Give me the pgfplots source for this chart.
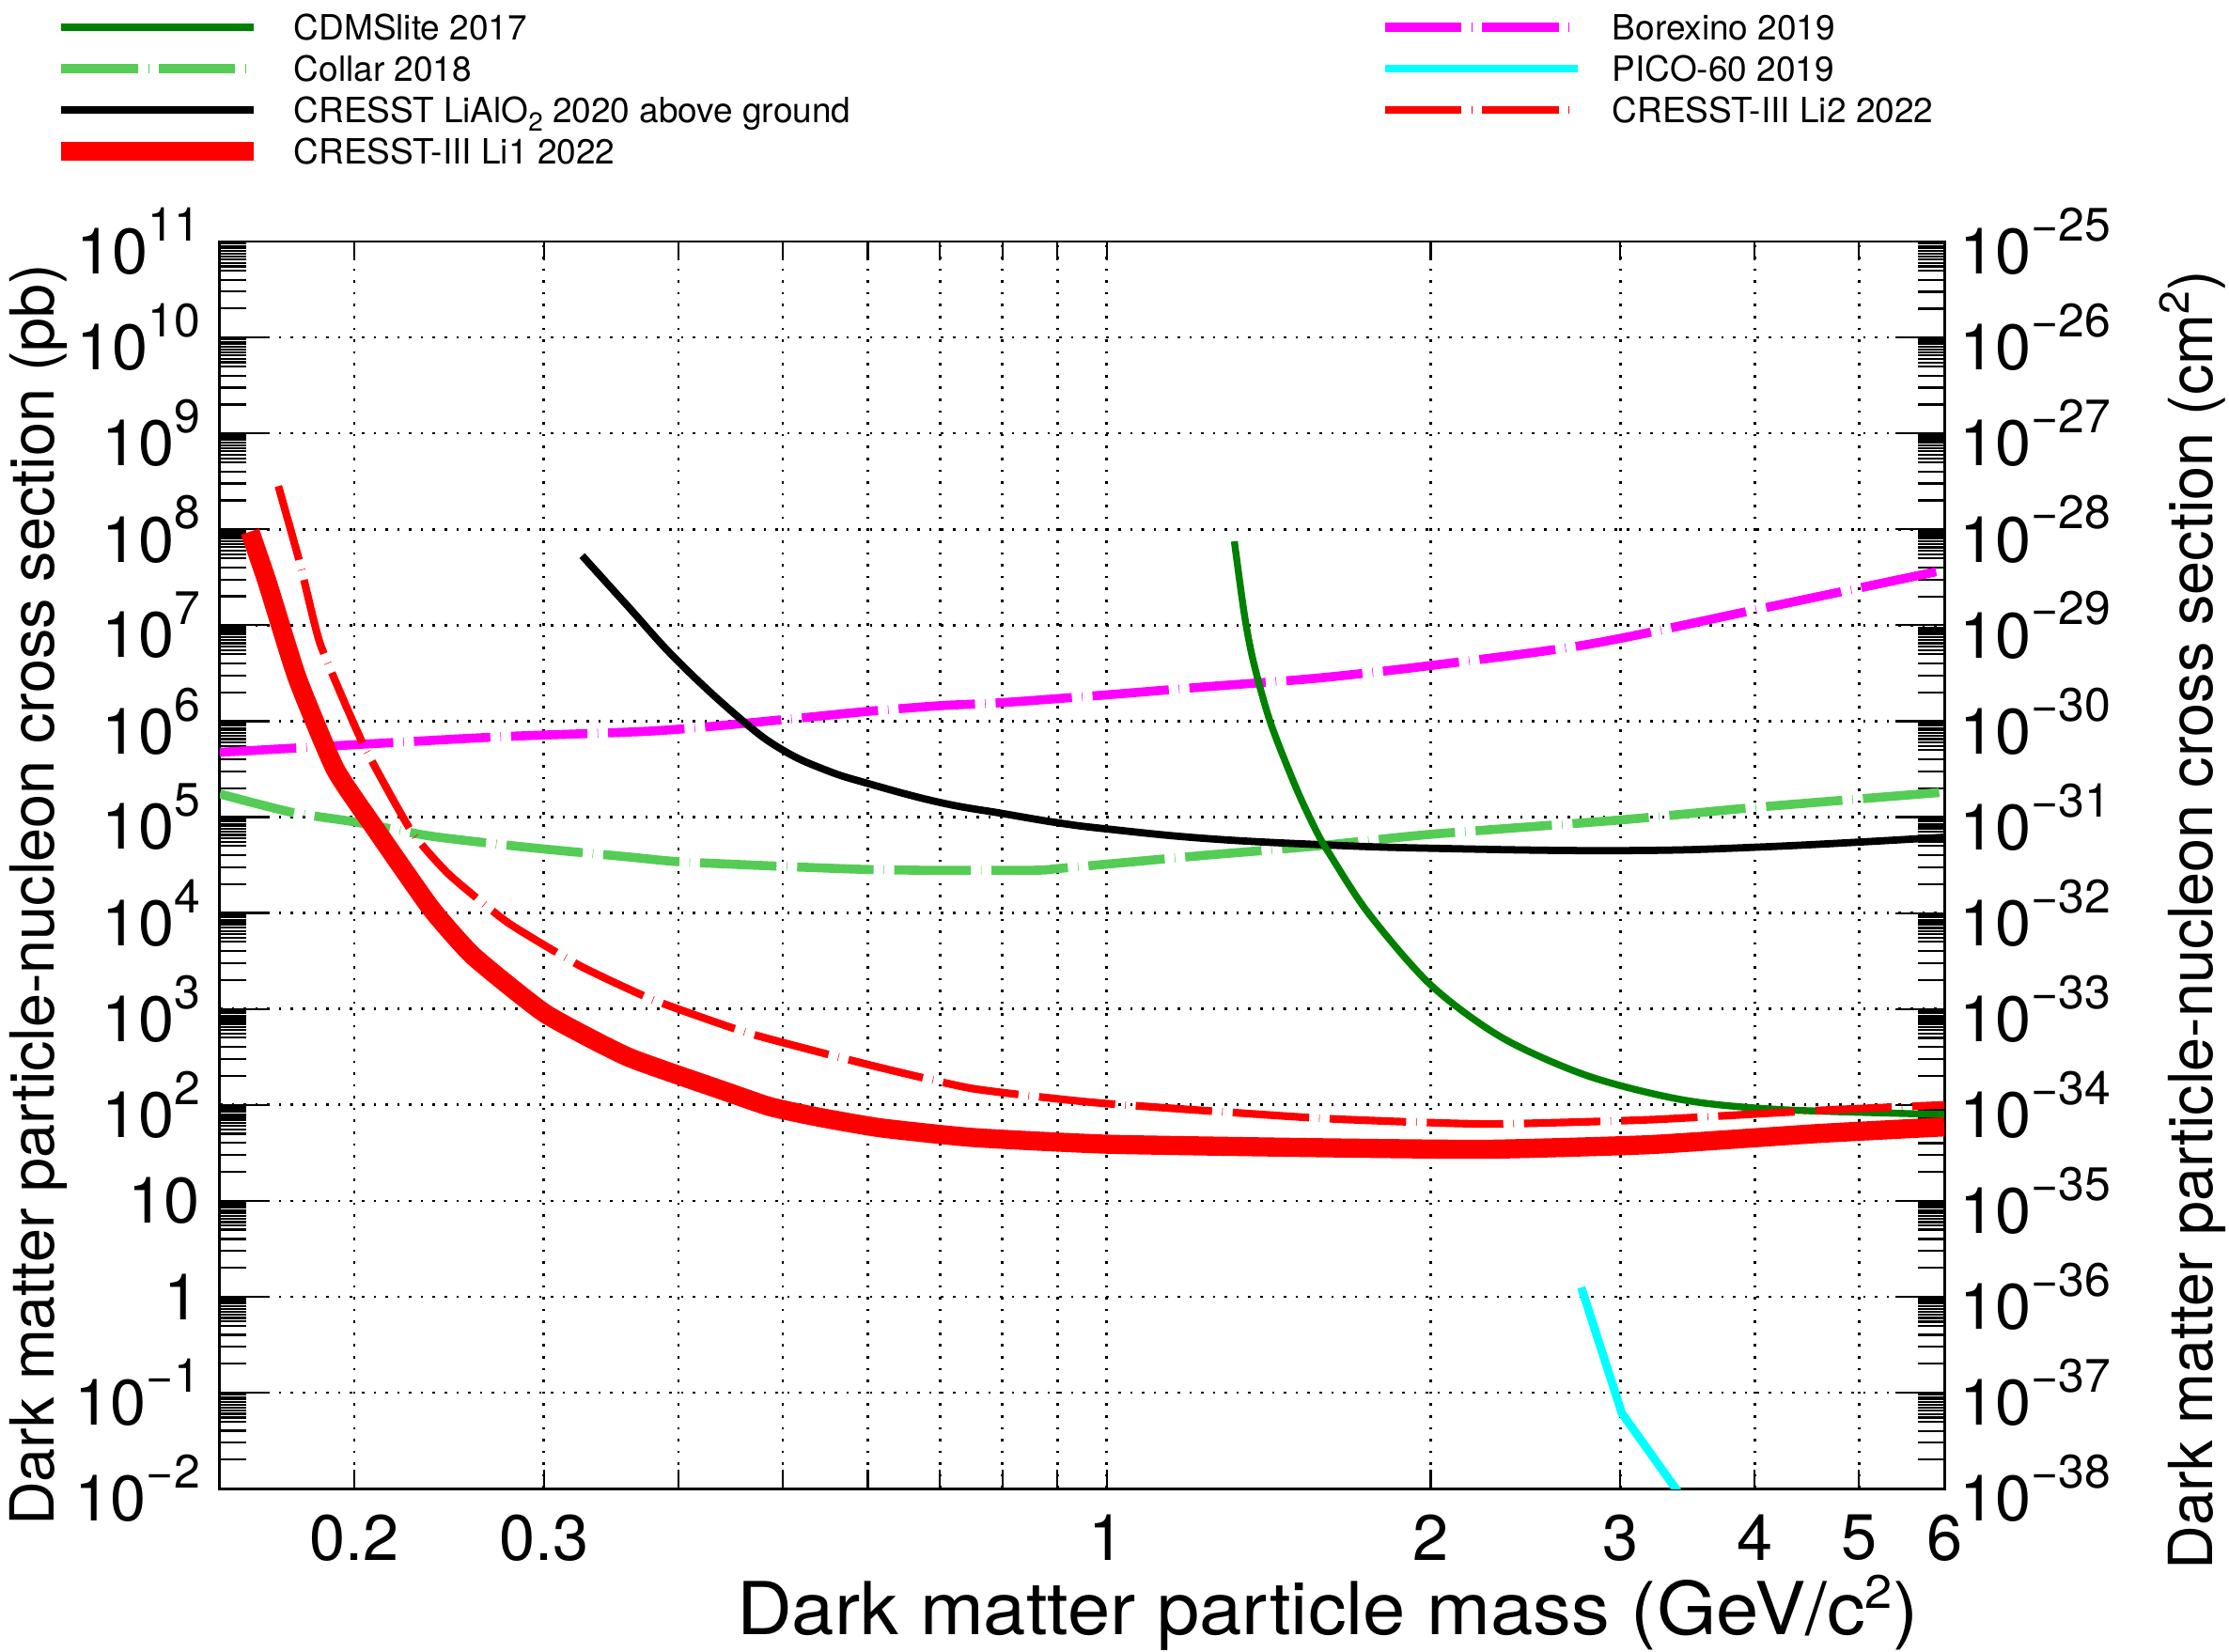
\documentclass[border=0pt]{standalone}
\usepackage{fontspec}
\setmainfont{TeX Gyre Heros}
\usepackage{pgfplots}
\pgfplotsset{compat=1.18}

\definecolor{cdms}{RGB}{0,128,0}
\definecolor{collar}{RGB}{85,204,85}
\definecolor{mag}{RGB}{255,0,255}
\definecolor{cya}{RGB}{0,255,255}
\definecolor{rd}{RGB}{255,0,0}

\newcommand\ex[1]{\raisebox{9.5pt}{\fontsize{13.5}{14}\selectfont #1}}
\newcommand\tickfont{\fontsize{18.5}{20}\selectfont}
\newcommand\dec[1]{2e#1,3e#1,4e#1,5e#1,5.5e#1,6e#1,6.5e#1,7e#1,7.5e#1,8e#1,8.5e#1,9e#1,9.5e#1}
\edef\minorL{\dec{-2},\dec{-1},\dec{0},\dec{1},\dec{2},\dec{3},\dec{4},\dec{5},\dec{6},\dec{7},\dec{8},\dec{9},\dec{10}}
\edef\minorR{\dec{-38},\dec{-37},\dec{-36},\dec{-35},\dec{-34},\dec{-33},\dec{-32},\dec{-31},\dec{-30},\dec{-29},\dec{-28},\dec{-27},\dec{-26}}

\tikzset{
  dsh/.style={dash pattern=on 22pt off 2.9pt on 0.15pt off 2.9pt},
  cdmsS/.style={cdms, line width=2pt, line join=round},
  collarS/.style={collar, line width=2.6pt, dsh},
  blackS/.style={black, line width=2.1pt, line join=round},
  li1S/.style={rd, line width=5.5pt, line join=round},
  borexS/.style={mag, line width=2.6pt, dsh},
  picoS/.style={cya, line width=2.4pt, line join=round},
  li2S/.style={rd, line width=2.2pt, dsh},
}

\begin{document}
\begin{tikzpicture}
% left y axis, y grid, right-column legend
\begin{axis}[scale only axis, width=495.95pt, height=358.65pt,
  xmode=log, ymode=log, xmin=0.15, xmax=6, ymin=1e-2, ymax=1e11,
  tick align=inside, tick style={black, line width=0.6pt},
  xminorticks=false,
  major grid style={black, line width=0.7pt, dash pattern=on 0.7pt off 2.7pt},
  axis line style={line width=0.8pt},
  hide x axis, axis y line*=left,
  ytick={1e-2,1e-1,1,1e1,1e2,1e3,1e4,1e5,1e6,1e7,1e8,1e9,1e10,1e11},
  yticklabels={10\ex{−2},10\ex{−1},1,10,10\ex{2},10\ex{3},10\ex{4},10\ex{5},10\ex{6},10\ex{7},10\ex{8},10\ex{9},10\ex{10},10\ex{11}},
  minor ytick/.expanded=\minorL,
  ymajorgrids=true,
  major tick length=14pt, minor tick length=7.5pt,
  yticklabel style={anchor=east, inner sep=0pt, xshift=-5.5pt, font=\tickfont},
  ylabel={Dark matter particle-nucleon cross section (pb)},
  every axis y label/.style={at={(axis description cs:-0.0964,0.9826)}, anchor=base east, rotate=90, inner sep=0pt, font=\fontsize{17.5}{20}\selectfont},
  legend image code/.code={\draw[#1] (0pt,0pt) -- (55.4pt,0pt);},
  legend style={at={(axis description cs:0.6730,1.1830)}, anchor=north west,
      draw=none, fill=none, inner sep=0pt, outer sep=0pt,
      font=\fontsize{10}{12}\selectfont,
      nodes={inner sep=0pt, text height=7.6pt, text depth=0.4pt},
      row sep=3.9pt,
      /tikz/every odd column/.append style={column sep=8.7pt}},
  legend cell align=left]
\addlegendimage{borexS}\addlegendentry{Borexino 2019}
\addlegendimage{picoS}\addlegendentry{PICO-60 2019}
\addlegendimage{li2S}\addlegendentry{CRESST-III Li2 2022}
\end{axis}

% right y axis
\begin{axis}[scale only axis, width=495.95pt, height=358.65pt,
  xmode=log, ymode=log, xmin=0.15, xmax=6, ymin=1e-38, ymax=1e-25,
  tick align=inside, tick style={black, line width=0.6pt},
  xminorticks=false,
  axis line style={line width=0.8pt},
  hide x axis, axis y line*=right,
  ytick={1e-38,1e-37,1e-36,1e-35,1e-34,1e-33,1e-32,1e-31,1e-30,1e-29,1e-28,1e-27,1e-26,1e-25},
  yticklabels={10\ex{−38},10\ex{−37},10\ex{−36},10\ex{−35},10\ex{−34},10\ex{−33},10\ex{−32},10\ex{−31},10\ex{−30},10\ex{−29},10\ex{−28},10\ex{−27},10\ex{−26},10\ex{−25}},
  minor ytick/.expanded=\minorR,
  major tick length=14pt, minor tick length=7.5pt,
  yticklabel style={anchor=west, inner sep=0pt, xshift=4.3pt, font=\tickfont},
  ylabel={Dark matter particle-nucleon cross section (cm\smash{\raisebox{7pt}{\fontsize{12}{12}\selectfont 2}})},
  every axis y label/.style={at={(axis description cs:1.1558,0.977)}, anchor=base east, rotate=90, inner sep=0pt, font=\fontsize{17.5}{20}\selectfont}]
\end{axis}

% main axis: data, x ticks, box
\begin{axis}[scale only axis, width=495.95pt, height=358.65pt,
  xmode=log, ymode=log, xmin=0.15, xmax=6, ymin=1e-2, ymax=1e11,
  tick align=inside, tick style={black, line width=0.6pt},
  major grid style={black, line width=0.7pt, dash pattern=on 0.7pt off 2.7pt},
  axis line style={line width=0.8pt},
  ytick=\empty, yminorticks=false, xminorticks=false,
  xtick={0.2,0.3,0.4,0.5,0.6,0.7,0.8,0.9,1,2,3,4,5,6},
  xticklabels={0.2,0.3,{},{},{},{},{},{},1,2,3,4,5,6},
  xtick pos=both, xticklabel pos=lower,
  xmajorgrids=true,
  major tick length=5.4pt,
  xticklabel style={anchor=north, inner sep=0pt, yshift=-7.3pt, font=\tickfont},
  xlabel={\scalebox{1.048}[1]{Dark matter particle mass (GeV/c\smash{\raisebox{7.6pt}{\fontsize{13.5}{14}\selectfont 2}})}},
  every axis x label/.style={at={(axis description cs:0.9852,-0.1171)}, anchor=base east, inner sep=0pt, font=\fontsize{21}{23}\selectfont},
  legend image code/.code={\draw[#1] (0pt,0pt) -- (55.4pt,0pt);},
  legend style={at={(axis description cs:-0.0974,1.1830)}, anchor=north west,
      draw=none, fill=none, inner sep=0pt, outer sep=0pt,
      font=\fontsize{10}{12}\selectfont,
      nodes={inner sep=0pt, text height=7.6pt, text depth=0.4pt},
      row sep=3.9pt,
      /tikz/every odd column/.append style={column sep=8.7pt}},
  legend cell align=left]
\addlegendimage{cdmsS}\addlegendentry{CDMSlite 2017}
\addlegendimage{collarS}\addlegendentry{Collar 2018}
\addlegendimage{blackS}\addlegendentry{CRESST LiAlO\raisebox{-2.5pt}{\fontsize{7.5}{8}\selectfont 2} 2020 above ground}
\addlegendimage{li1S}\addlegendentry{CRESST-III Li1 2022}

% Borexino 2019
\addplot[borexS, smooth, tension=0.5, forget plot] coordinates {(0.15,4.73e5) (0.204,5.75e5) (0.277,6.92e5) (0.383,7.96e5) (0.5,1.035e6) (0.6,1.265e6) (0.7,1.449e6) (0.8,1.56e6) (1.0,1.88e6) (1.229,2.27e6) (1.565,2.8e6) (2.0,3.8e6) (2.8,6.31e6) (3.96,1.41e7) (6.0,3.76e7)};
% Collar 2018
\addplot[collarS, smooth, tension=0.4, forget plot] coordinates {(0.15,1.74e5) (0.175,1.12e5) (0.2,8.91e4) (0.236,6.31e4) (0.292,4.79e4) (0.359,3.85e4) (0.4,3.43e4) (0.5,3.06e4) (0.6,2.84e4) (0.7,2.78e4) (0.8,2.78e4) (0.87,2.8e4) (0.9,2.9e4) (1.0,3.23e4) (1.229,3.98e4) (1.565,4.99e4) (2.0,6.61e4) (3.0,9.33e4) (4.0,1.26e5) (6.0,1.82e5)};
% CRESST LiAlO2 2020
\addplot[blackS, smooth, tension=0.7, forget plot] coordinates {(0.3256,5.31e7) (0.359,1.58e7) (0.4,4.17e6) (0.458,1.03e6) (0.5,5.0e5) (0.548,3.1e5) (0.6,2.24e5) (0.7,1.42e5) (0.8,1.09e5) (0.9,8.73e4) (1.0,7.52e4) (1.229,6.01e4) (1.565,5.18e4) (2.0,4.73e4) (3.0,4.47e4) (4.1,4.9e4) (6.0,6.17e4)};
% PICO-60 2019
\addplot[picoS, forget plot] coordinates {(2.76,1.25) (3.01,0.061) (3.40,0.009)};
% CDMSlite 2017
\addplot[cdmsS, smooth, tension=0.5, forget plot] coordinates {(1.314,7.5e7) (1.343,1.26e7) (1.37,3.98e6) (1.42,9.55e5) (1.50,2.0e5) (1.565,7.24e4) (1.61,4.17e4) (1.75,1.0e4) (2.0,1778) (2.33,501) (2.80,200) (3.44,112) (4.24,89.1) (6.0,79.4)};
% CRESST-III Li2 2022
\addplot[li2S, smooth, tension=0.3, forget plot] coordinates {(0.170,2.82e8) (0.178,4.47e7) (0.186,6.31e6) (0.204,5.62e5) (0.226,7.08e4) (0.245,2.51e4) (0.2777,7943) (0.324,2818) (0.378,1259) (0.464,562) (0.60,263) (0.75,148) (0.98,105) (1.58,72.4) (2.25,63.1) (3.2,70) (4.56,87.1) (6.0,100)};
% CRESST-III Li1 2022
\addplot[li1S, smooth, tension=0.3, forget plot] coordinates {(0.160,9.44e7) (0.166,2.82e7) (0.177,2.82e6) (0.192,3.16e5) (0.2085,7.94e4) (0.2356,1.12e4) (0.258,3548) (0.301,891) (0.359,316) (0.44,141) (0.487,95.5) (0.541,74.1) (0.617,57.5) (0.75,45.7) (1.0,38.9) (1.58,35.7) (2.25,34.4) (3.2,38.5) (4.56,50.1) (6.0,58.9)};
\end{axis}

\pgfresetboundingbox
\path (-63.24pt,-46.76pt) rectangle (577.84pt,428.11pt);
\end{tikzpicture}
\end{document}
